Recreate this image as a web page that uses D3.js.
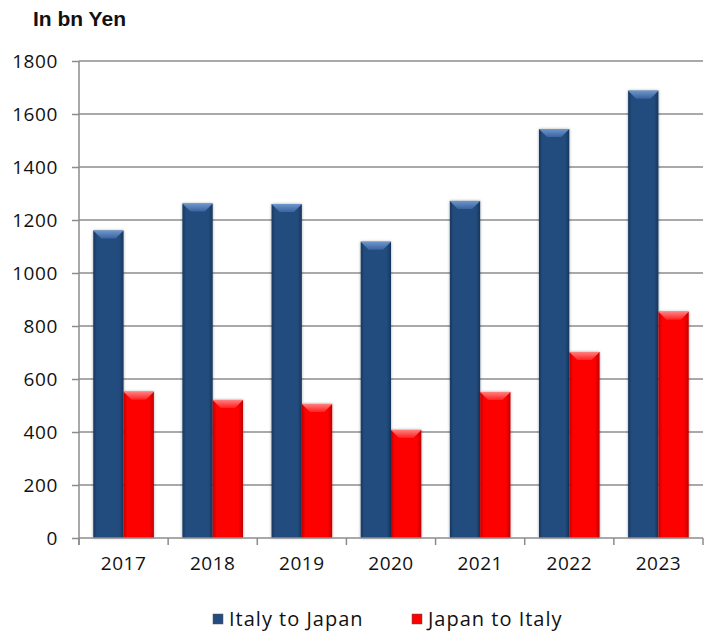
<!DOCTYPE html>
<html>
<head>
<meta charset="utf-8">
<script src="https://cdn.jsdelivr.net/npm/d3@7"></script>
<style>
  body { margin: 0; background: #fff; }
  text { font-family: "Open Sans", sans-serif; fill: #111; }
</style>
</head>
<body>
<script>
// data
var years = ["2017", "2018", "2019", "2020", "2021", "2022", "2023"];
var series = ["Italy to Japan", "Japan to Italy"];
var italyToJapan = [1160, 1262, 1260, 1118, 1272, 1543, 1688];
var japanToItaly = [552, 521, 506, 408, 551, 702, 854];
var yTicks = [0, 200, 400, 600, 800, 1000, 1200, 1400, 1600, 1800];

var width = 711, height = 635;
var plotLeft = 79, plotRight = 703, plotTop = 61, plotBottom = 538;
var labelSize = "19px";

var svg = d3.select("body").append("svg")
  .attr("width", width)
  .attr("height", height);

var defs = svg.append("defs");

// shading for the bars, dark edges lighter middle
function barGradient(id, edge, mid) {
  var g = defs.append("linearGradient").attr("id", id)
    .attr("x1", "0").attr("x2", "1").attr("y1", "0").attr("y2", "0");
  g.append("stop").attr("offset", "0%").attr("stop-color", edge);
  g.append("stop").attr("offset", "12%").attr("stop-color", mid);
  g.append("stop").attr("offset", "85%").attr("stop-color", mid);
  g.append("stop").attr("offset", "100%").attr("stop-color", edge);
}
barGradient("gBlue", "#17375f", "#244c7e");
barGradient("gRed", "#c00000", "#fd0000");

// top bevel, light at the edge fading down
function topGradient(id, light, dark) {
  var g = defs.append("linearGradient").attr("id", id)
    .attr("x1", "0").attr("x2", "0").attr("y1", "0").attr("y2", "1");
  g.append("stop").attr("offset", "0%").attr("stop-color", light);
  g.append("stop").attr("offset", "100%").attr("stop-color", dark);
}
topGradient("tBlue", "#6d96cc", "#3a63a0");
topGradient("tRed", "#ff8080", "#ff2020");

var colors = {
  "Italy to Japan": { fill: "url(#gBlue)", top: "url(#tBlue)", solid: "#244c7e" },
  "Japan to Italy": { fill: "url(#gRed)", top: "url(#tRed)", solid: "#fd0000" }
};

var filter = defs.append("filter").attr("id", "shadow")
  .attr("x", "-30%").attr("y", "-10%").attr("width", "160%").attr("height", "120%");
filter.append("feDropShadow").attr("dx", 0).attr("dy", 0).attr("stdDeviation", 1.6)
  .attr("flood-color", "#000").attr("flood-opacity", 0.35);

// scales
var x0 = d3.scaleBand().domain(years).range([plotLeft, plotRight]).paddingInner(0.32).paddingOuter(0.16);
var x1 = d3.scaleBand().domain(series).range([0, x0.bandwidth()]);
var y = d3.scaleLinear().domain([0, 1800]).range([plotBottom, plotTop]);

// title
svg.append("text")
  .attr("x", 33).attr("y", 26)
  .style("font-family", "'Liberation Sans', Arial, sans-serif")
  .style("font-weight", "bold")
  .style("font-size", "21px")
  .text("In bn Yen");

// y ticks
var yAxis = svg.append("g")
  .attr("transform", "translate(" + plotLeft + ",0)")
  .call(d3.axisLeft(y).tickValues(yTicks).tickSize(7).tickPadding(14).tickFormat(d3.format("d")));
yAxis.select(".domain").remove();
yAxis.selectAll(".tick line").attr("stroke", "#8c8c8c").attr("stroke-width", 1.5);
yAxis.selectAll(".tick text").style("font-size", labelSize).style("letter-spacing", "0.6px")
  .style("font-family", "'Open Sans', sans-serif").attr("fill", "#111");

// gridlines
svg.append("g").selectAll("line")
  .data(yTicks.filter(function(d) { return d > 0; }))
  .enter().append("line")
  .attr("x1", plotLeft).attr("x2", plotRight)
  .attr("y1", function(d) { return y(d); })
  .attr("y2", function(d) { return y(d); })
  .attr("stroke", "#8c8c8c").attr("stroke-width", 1.5);

// bars
var rows = years.map(function(yr, i) {
  return { year: yr, values: [
    { name: series[0], value: italyToJapan[i] },
    { name: series[1], value: japanToItaly[i] }
  ] };
});

var groups = svg.append("g").selectAll("g")
  .data(rows)
  .enter().append("g")
  .attr("transform", function(d) { return "translate(" + x0(d.year) + ",0)"; });

var bars = groups.selectAll("g")
  .data(function(d) { return d.values; })
  .enter().append("g");

bars.append("rect")
  .attr("x", function(d) { return x1(d.name); })
  .attr("y", function(d) { return y(d.value); })
  .attr("width", x1.bandwidth())
  .attr("height", function(d) { return y(0) - y(d.value); })
  .attr("fill", function(d) { return colors[d.name].fill; })
  .attr("filter", "url(#shadow)");

// bevel on top of each bar
bars.append("path")
  .attr("d", function(d) {
    var xa = x1(d.name), xb = xa + x1.bandwidth(), yt = y(d.value), b = 8;
    return "M" + xa + "," + yt + "L" + xb + "," + yt + "L" + (xb - b) + "," + (yt + b) +
      "L" + (xa + b) + "," + (yt + b) + "Z";
  })
  .attr("fill", function(d) { return colors[d.name].top; });

// x axis
var xAxis = svg.append("g")
  .attr("transform", "translate(0," + plotBottom + ")")
  .call(d3.axisBottom(x0).tickSize(0).tickPadding(19));
xAxis.select(".domain").remove();
xAxis.selectAll(".tick text").style("font-size", labelSize).style("letter-spacing", "0.5px")
  .style("font-family", "'Open Sans', sans-serif").attr("fill", "#111");

var bounds = d3.range(years.length + 1).map(function(i) { return plotLeft + i * x0.step(); });
svg.append("g").selectAll("line")
  .data(bounds)
  .enter().append("line")
  .attr("x1", function(d) { return d; }).attr("x2", function(d) { return d; })
  .attr("y1", plotBottom).attr("y2", plotBottom + 7)
  .attr("stroke", "#8c8c8c").attr("stroke-width", 1.5);

svg.append("line")
  .attr("x1", plotLeft).attr("x2", plotRight)
  .attr("y1", plotBottom).attr("y2", plotBottom)
  .attr("stroke", "#8c8c8c").attr("stroke-width", 1.5);
svg.append("line")
  .attr("x1", plotLeft).attr("x2", plotLeft)
  .attr("y1", plotTop).attr("y2", plotBottom + 7)
  .attr("stroke", "#8c8c8c").attr("stroke-width", 1.5);

// legend
var legendX = [213, 412];
var legend = svg.append("g").selectAll("g")
  .data(series)
  .enter().append("g")
  .attr("transform", function(d, i) { return "translate(" + legendX[i] + ",614)"; });
legend.append("rect")
  .attr("width", 10).attr("height", 10)
  .attr("fill", function(d) { return colors[d].solid; })
  .attr("stroke", "#555").attr("stroke-width", 0.5);
legend.append("text")
  .attr("x", 16).attr("y", 12)
  .style("font-size", "20px")
  .style("letter-spacing", "1px")
  .text(function(d) { return d; });
</script>
</body>
</html>
